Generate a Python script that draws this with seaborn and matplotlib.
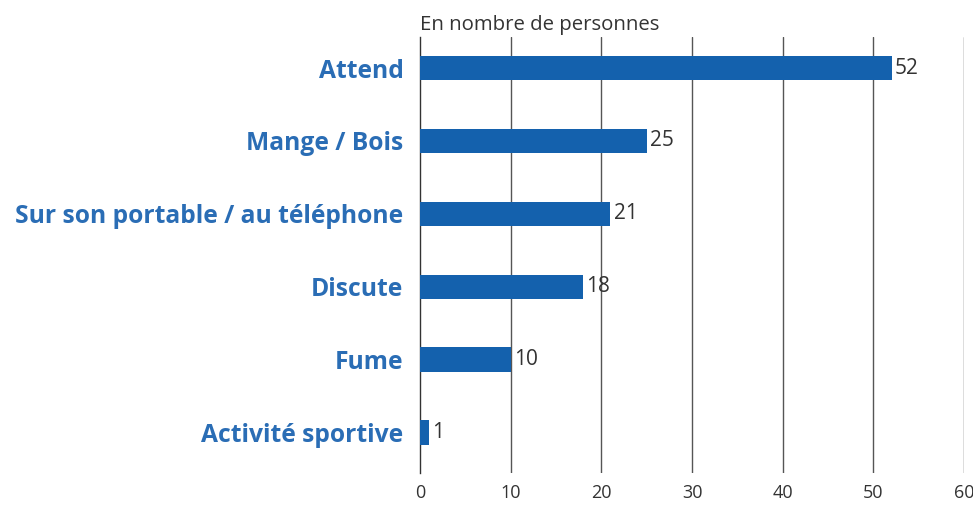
import pandas as pd
import matplotlib.pyplot as plt
import seaborn as sns

# activites observees
activites = ['Attend', 'Mange / Bois', 'Sur son portable / au téléphone',
             'Discute', 'Fume', 'Activité sportive']
nombres = [52, 25, 21, 18, 10, 1]
graduations = [0, 10, 20, 30, 40, 50, 60]

df = pd.DataFrame({'activite': activites, 'nombre': nombres})

sns.set_theme(style='white')
plt.rcParams['font.family'] = ['Open Sans', 'DejaVu Sans']

fig = plt.figure(figsize=(9.73, 5.05), dpi=100)
ax = fig.add_axes([0.4317, 0.0634, 0.5591, 0.8633])

sns.barplot(data=df, x='nombre', y='activite', orient='h', color='#1461ad',
            width=0.34, saturation=1, linewidth=0, ax=ax, zorder=3)

ax.set_xlim(0, 60)
ax.set_ylim(5.55, -0.425)
ax.set_xticks(graduations)
ax.set_xticklabels([str(g) for g in graduations], fontsize=13, color='#333333')
ax.set_xlabel('')
ax.set_ylabel('')
ax.tick_params(axis='both', length=0, pad=8)
ax.tick_params(axis='y', pad=12)
for lab in ax.get_yticklabels():
    lab.set_fontweight('bold')
    lab.set_fontsize(17.7)
    lab.set_color('#2a6db5')

for g in graduations[1:]:
    ax.axvline(g, color='#555555', lw=1, zorder=1)

for sp in ['top', 'right', 'bottom']:
    ax.spines[sp].set_visible(False)
ax.spines['left'].set_color('#333333')
ax.spines['left'].set_linewidth(1)

for i, v in enumerate(nombres):
    ax.text(v + 0.35, i, str(v), va='center', ha='left', fontsize=15,
            color='#333333', zorder=4)

fig.text(0.4317, 0.95, 'En nombre de personnes', fontsize=14.7, color='#333333',
         ha='left', va='center')

fig.savefig('out.png', dpi=100)
